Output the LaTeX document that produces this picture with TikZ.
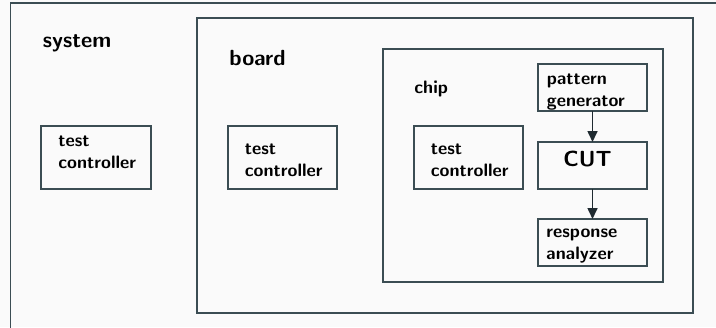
\documentclass[tikz,border=0pt]{standalone}
\usepackage[OT1]{fontenc}
\usetikzlibrary{arrows.meta}
\definecolor{bg}{HTML}{FAFAFA}
\definecolor{frame}{HTML}{3B4D53}
\definecolor{arrowc}{HTML}{1F2A30}
\newcommand{\labfont}{\fontencoding{OT1}\fontfamily{cmss}\fontseries{bx}\fontshape{n}}
\begin{document}
\begin{tikzpicture}[x=0.5pt,y=-0.5pt,
  frm/.style={draw=frame,line width=0.8pt},
  blk/.style={frm,fill=none},
  small/.style={font=\labfont\fontsize{9.1}{11}\selectfont,inner sep=0pt,anchor=base west},
  big/.style={font=\labfont\fontsize{11.1}{13}\selectfont,inner sep=0pt,anchor=base west},
  flow/.style={draw=arrowc,line width=0.8pt,-{Triangle[length=5.5pt,width=5pt]}}]
  % canvas
  \fill[bg] (0,0) rectangle (716,327);
  \useasboundingbox (0,0) rectangle (716,327);
  \clip (0,0) rectangle (716,327);

  % nested levels: system, board, chip
  \draw[frm] (730,3) -- (10.5,3) -- (10.5,340);
  \draw[frm] (197,18) rectangle (693,313);
  \draw[frm] (383,49) rectangle (663,282);

  \node[big] (lsys) at (42.5,47.3) {system};
  \node[big] (lboard) at (229,65.7) {board};
  \node[small] (lchip) at (414,93) {chip};

  % test controllers at each level
  \draw[blk] (41,126) rectangle (151,189);
  \node[small] (tc1a) at (58,146) {test};
  \node[small] (tc1b) at (58,168.5) {controller};

  \draw[blk] (228,126) rectangle (337,189);
  \node[small] (tc2a) at (244.5,154) {test};
  \node[small] (tc2b) at (244.5,176.5) {controller};

  \draw[blk] (414,126) rectangle (523,189);
  \node[small] (tc3a) at (430.5,154) {test};
  \node[small] (tc3b) at (430.5,176.5) {controller};

  % on-chip BIST path
  \draw[blk] (538,64) rectangle (647,111);
  \coordinate (pg) at (592.5,111);
  \node[small] (pga) at (546.5,84.5) {pattern};
  \node[small] (pgb) at (546.5,106.3) {generator};

  \draw[blk] (538,142) rectangle (647,189);
  \coordinate (cutn) at (592.5,142);
  \coordinate (cuts) at (592.5,189);
  \node[big] (cut) at (563,166) {CUT};

  \draw[blk] (538,219) rectangle (647,266);
  \coordinate (ran) at (592.5,219);
  \node[small] (raa) at (546,237.3) {response};
  \node[small] (rab) at (546,259) {analyzer};

  \draw[flow] (pg) -- (cutn);
  \draw[flow] (cuts) -- (ran);
\end{tikzpicture}
\end{document}
